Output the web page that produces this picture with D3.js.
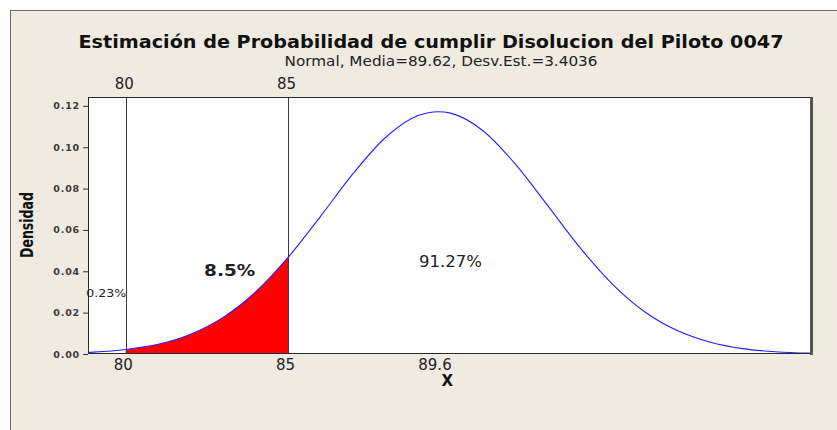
<!DOCTYPE html>
<html>
<head>
<meta charset="utf-8">
<script src="https://cdn.jsdelivr.net/npm/d3@7"></script>
<style>
  body { margin: 0; background: #fff; }
  text { font-family: "DejaVu Sans", sans-serif; }
</style>
</head>
<body>
<div id="chart"></div>
<script>
// values
var xValues  = [78, 79, 80, 81, 82, 83, 84, 85, 86, 87, 88, 89, 89.62, 90, 91, 92, 93, 94, 95, 96, 97, 98, 99, 100, 101, 102];
var densidad = [0.0003, 0.0009, 0.0022, 0.0047, 0.0096, 0.0177, 0.0300, 0.0467, 0.0666, 0.0872, 0.1047, 0.1153, 0.1172, 0.1165, 0.1080, 0.0918, 0.0716, 0.0512, 0.0336, 0.0202, 0.0112, 0.0057, 0.0026, 0.0011, 0.0004, 0.0002];
var yTicks = [0, 0.02, 0.04, 0.06, 0.08, 0.10, 0.12];
var xTicksTop = [80, 85];
var xTicksBottom = [80, 85, 89.6];
var shadeFrom = 80, shadeTo = 85;
var labels = [
  {text: "0.23%", x: 79.4, y: 0.0276, size: 11, weight: "normal", len: 40},
  {text: "8.5%", x: 83.2, y: 0.0377, size: 16, weight: "bold", len: 51},
  {text: "91.27%", x: 90.0, y: 0.0421, size: 15, weight: "normal", len: 63}
];

var W = 837, H = 430;
var margin = {top: 97, right: 26, bottom: 76, left: 88},
    width = W - margin.left - margin.right,
    height = H - margin.top - margin.bottom;

var svg = d3.select("#chart").append("svg")
    .attr("width", W)
    .attr("height", H);

// outer panel
svg.append("rect")
    .attr("x", 10.5).attr("y", 10.5)
    .attr("width", W + 20).attr("height", H + 20)
    .attr("fill", "#efebe1")
    .attr("stroke", "#6a6a6a");

svg.append("text")
    .attr("x", 431).attr("y", 48)
    .attr("text-anchor", "middle")
    .attr("font-size", 18).attr("font-weight", "bold")
    .attr("fill", "#111")
    .attr("textLength", 705).attr("lengthAdjust", "spacingAndGlyphs")
    .text("Estimación de Probabilidad de cumplir Disolucion del Piloto 0047");

svg.append("text")
    .attr("x", 441).attr("y", 66)
    .attr("text-anchor", "middle")
    .attr("font-size", 14)
    .attr("fill", "#222")
    .attr("textLength", 313).attr("lengthAdjust", "spacingAndGlyphs")
    .text("Normal, Media=89.62, Desv.Est.=3.4036");

var g = svg.append("g")
    .attr("transform", "translate(" + margin.left + "," + margin.top + ")");

var x = d3.scaleLinear().domain([78.84, 101.1]).range([0, width]);
var y = d3.scaleLinear().domain([0, 0.1243]).range([height, 0]);

g.append("rect")
    .attr("width", width).attr("height", height)
    .attr("fill", "#fff");

var defs = svg.append("defs");
defs.append("clipPath").attr("id", "plot-clip")
  .append("rect").attr("width", width).attr("height", height);
defs.append("clipPath").attr("id", "shade-clip")
  .append("rect")
    .attr("x", x(shadeFrom)).attr("width", x(shadeTo) - x(shadeFrom))
    .attr("height", height);

var pts = xValues.map(function(d, i) { return [d, densidad[i]]; });

var area = d3.area()
    .x(function(d) { return x(d[0]); })
    .y0(height)
    .y1(function(d) { return y(d[1]); })
    .curve(d3.curveMonotoneX);

var line = d3.line()
    .x(function(d) { return x(d[0]); })
    .y(function(d) { return y(d[1]); })
    .curve(d3.curveMonotoneX);

g.append("path")
    .datum(pts)
    .attr("clip-path", "url(#shade-clip)")
    .attr("fill", "#ff0000")
    .attr("d", area);

// reference lines
g.selectAll(".ref")
    .data(xTicksTop)
  .enter().append("line")
    .attr("x1", function(d) { return Math.round(x(d)) + 0.5; })
    .attr("x2", function(d) { return Math.round(x(d)) + 0.5; })
    .attr("y1", 0).attr("y2", height)
    .attr("stroke", "#3c3c3c");

g.append("path")
    .datum(pts)
    .attr("clip-path", "url(#plot-clip)")
    .attr("fill", "none")
    .attr("stroke", "#2020ff")
    .attr("stroke-width", 1.1)
    .attr("d", line);

// frame of plot
g.append("rect")
    .attr("x", 0.5).attr("y", 0.5)
    .attr("width", width - 1).attr("height", height - 1)
    .attr("fill", "none")
    .attr("stroke", "#2a2a2a");
g.append("line")
    .attr("x1", width + 0.5).attr("x2", width + 0.5)
    .attr("y1", 0).attr("y2", height + 1)
    .attr("stroke", "#555").attr("stroke-width", 3);

// y axis
g.append("g")
    .call(d3.axisLeft(y).tickValues(yTicks).tickSize(5).tickPadding(3).tickFormat(d3.format(".2f")))
    .call(function(a) { a.select(".domain").remove(); })
    .call(function(a) {
      a.selectAll("line").attr("stroke", "#333");
      a.selectAll("text")
        .attr("font-size", 9.5).attr("font-weight", "bold")
        .attr("letter-spacing", 0.8)
        .attr("fill", "#3a3a3a")
        .attr("font-family", "DejaVu Sans");
    });

// bottom axis
g.append("g")
    .attr("transform", "translate(0," + height + ")")
    .call(d3.axisBottom(x).tickValues(xTicksBottom).tickSize(0).tickPadding(5).tickFormat(d3.format("")))
    .call(function(a) { a.select(".domain").remove(); })
    .call(function(a) {
      a.selectAll("text")
        .attr("font-size", 15).attr("fill", "#222")
        .attr("dx", -3)
        .attr("font-family", "DejaVu Sans");
    });

// top axis
g.append("g")
    .call(d3.axisTop(x).tickValues(xTicksTop).tickSize(0).tickPadding(8).tickFormat(d3.format("")))
    .call(function(a) { a.select(".domain").remove(); })
    .call(function(a) {
      a.selectAll("text")
        .attr("font-size", 15).attr("fill", "#222")
        .attr("dx", -2)
        .attr("font-family", "DejaVu Sans");
    });

g.append("text")
    .attr("x", x(89.9)).attr("y", height + 32)
    .attr("text-anchor", "middle")
    .attr("font-size", 15).attr("font-weight", "bold")
    .attr("fill", "#111")
    .text("X");

svg.append("text")
    .attr("transform", "translate(33,225) rotate(-90)")
    .attr("text-anchor", "middle")
    .attr("font-size", 17).attr("font-weight", "bold")
    .attr("fill", "#111")
    .attr("textLength", 66).attr("lengthAdjust", "spacingAndGlyphs")
    .text("Densidad");

g.selectAll(".lbl")
    .data(labels)
  .enter().append("text")
    .attr("x", function(d) { return x(d.x); })
    .attr("y", function(d) { return y(d.y); })
    .attr("text-anchor", "middle")
    .attr("font-size", function(d) { return d.size; })
    .attr("font-weight", function(d) { return d.weight; })
    .attr("fill", "#222")
    .attr("textLength", function(d) { return d.len; })
    .attr("lengthAdjust", "spacingAndGlyphs")
    .text(function(d) { return d.text; });
</script>
</body>
</html>
